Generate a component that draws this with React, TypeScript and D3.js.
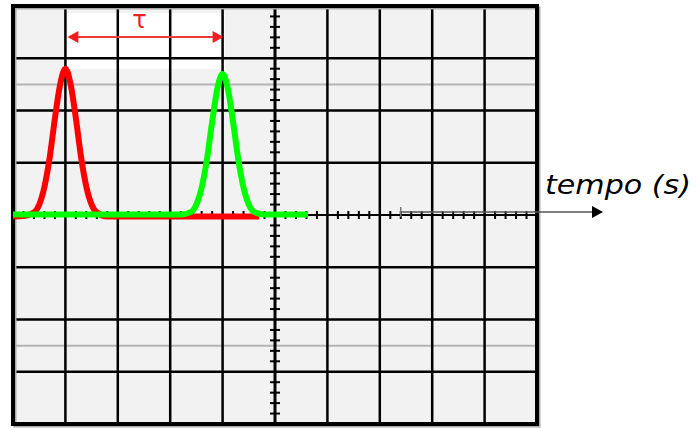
import React, { useEffect, useRef } from "react";
import * as d3 from "d3";

// screen is 10 x 8 divisions, centre at (0, 0)
const xDivs = [-5, -4, -3, -2, -1, 0, 1, 2, 3, 4, 5];
const yDivs = [-4, -3, -2, -1, 0, 1, 2, 3, 4];
const markerLevels = [2.5, -2.5];

// red pulse (time in div, volts in div)
const redT = [-5, -4.8, -4.6, -4.5, -4.4, -4.3, -4.2, -4.1, -4, -3.9, -3.8, -3.7, -3.6, -3.5, -3.4, -3.2, -0.3];
const redV = [-0.03, -0.02, 0.05, 0.2, 0.54, 1.1, 1.85, 2.5, 2.8, 2.5, 1.85, 1.1, 0.54, 0.2, 0.05, -0.03, -0.03];

// green pulse
const greenT = [-5, -1.8, -1.6, -1.5, -1.4, -1.3, -1.2, -1.1, -1, -0.9, -0.8, -0.7, -0.6, -0.5, -0.4, -0.2, 0.63];
const greenV = [0.01, 0.01, 0.06, 0.2, 0.52, 1.06, 1.78, 2.42, 2.7, 2.42, 1.78, 1.06, 0.52, 0.2, 0.06, 0.01, 0.01];

const tauLabel = "τ";
const axisLabel = "tempo (s)";

export default function App() {
  const ref = useRef<SVGSVGElement>(null);

  useEffect(() => {
    document.body.style.margin = "0";
    const svg = d3.select(ref.current);
    svg.selectAll("*").remove();

    const x = d3.scaleLinear().domain([-5, 5]).range([13, 537]);
    const y = d3.scaleLinear().domain([-4, 4]).range([424, 6]);

    // screen background
    svg.append("rect")
      .attr("x", x(-5)).attr("y", y(4))
      .attr("width", x(5) - x(-5)).attr("height", y(-4) - y(4))
      .attr("fill", "#f2f2f2");

    // white patch behind the annotation
    svg.append("rect")
      .attr("x", x(-4) + 2).attr("y", 13)
      .attr("width", x(-1) - x(-4)).attr("height", 56)
      .attr("fill", "#ffffff");

    // gray marker lines
    svg.selectAll(".marker").data(markerLevels).join("line")
      .attr("x1", x(-5)).attr("x2", x(5))
      .attr("y1", (d) => y(d)).attr("y2", (d) => y(d))
      .attr("stroke", "#b4b4b4").attr("stroke-width", 2);

    // grid
    svg.selectAll(".vgrid").data(xDivs.slice(1, -1)).join("line")
      .attr("x1", (d) => x(d)).attr("x2", (d) => x(d))
      .attr("y1", y(4)).attr("y2", y(-4))
      .attr("stroke", "#000").attr("stroke-width", (d) => (d === 0 ? 3 : 2.5));
    svg.selectAll(".hgrid").data(yDivs.slice(1, -1)).join("line")
      .attr("x1", x(-5)).attr("x2", x(5))
      .attr("y1", (d) => y(d)).attr("y2", (d) => y(d))
      .attr("stroke", "#000").attr("stroke-width", (d) => (d === 0 ? 2 : 2.5));

    // minor ticks on centre axes
    const xMinor = d3.range(-25, 26).map((i) => i / 5).filter((d) => Math.abs(d % 1) > 0.01);
    const yMinor = d3.range(-20, 21).map((i) => i / 5).filter((d) => Math.abs(d % 1) > 0.01);
    svg.selectAll(".xtick").data(xMinor).join("line")
      .attr("x1", (d) => x(d)).attr("x2", (d) => x(d))
      .attr("y1", y(0) - 4).attr("y2", y(0) + 4)
      .attr("stroke", "#000").attr("stroke-width", 2);
    svg.selectAll(".ytick").data(yMinor).join("line")
      .attr("x1", x(0) - 5).attr("x2", x(0) + 5)
      .attr("y1", (d) => y(d)).attr("y2", (d) => y(d))
      .attr("stroke", "#000").attr("stroke-width", 2);

    // frame
    svg.append("rect")
      .attr("x", x(-5) + 2).attr("y", y(4) + 2)
      .attr("width", x(5) - x(-5)).attr("height", y(-4) - y(4))
      .attr("fill", "none").attr("stroke", "#aaa").attr("stroke-width", 3);
    svg.append("rect")
      .attr("x", x(-5)).attr("y", y(4))
      .attr("width", x(5) - x(-5)).attr("height", y(-4) - y(4))
      .attr("fill", "none").attr("stroke", "#000").attr("stroke-width", 4);

    // traces
    const line = d3.line<[number, number]>()
      .x((d) => x(d[0])).y((d) => y(d[1]))
      .curve(d3.curveMonotoneX);
    svg.append("path")
      .attr("d", line(d3.zip(redT, redV) as [number, number][]))
      .attr("fill", "none").attr("stroke", "#ff0000").attr("stroke-width", 6)
      .attr("stroke-linejoin", "round");
    svg.append("path")
      .attr("d", line(d3.zip(greenT, greenV) as [number, number][]))
      .attr("fill", "none").attr("stroke", "#00ff00").attr("stroke-width", 6)
      .attr("stroke-linejoin", "round");

    // tau annotation
    const ay = 37;
    const ax1 = x(-4) + 2;
    const ax2 = x(-1) + 1;
    svg.append("line")
      .attr("x1", ax1 + 8).attr("x2", ax2 - 8)
      .attr("y1", ay).attr("y2", ay)
      .attr("stroke", "#f03a3a").attr("stroke-width", 2);
    svg.append("path")
      .attr("d", `M${ax1},${ay} L${ax1 + 11},${ay - 6} L${ax1 + 11},${ay + 6} Z`)
      .attr("fill", "#f01e1e");
    svg.append("path")
      .attr("d", `M${ax2},${ay} L${ax2 - 11},${ay - 6} L${ax2 - 11},${ay + 6} Z`)
      .attr("fill", "#f01e1e");
    svg.append("text")
      .attr("x", (ax1 + ax2) / 2 - 6).attr("y", 28)
      .attr("text-anchor", "middle")
      .attr("font-family", "DejaVu Sans").attr("font-size", 24)
      .attr("fill", "#f01e1e")
      .text(tauLabel);

    // time arrow
    svg.append("line")
      .attr("x1", x(2.4)).attr("x2", 594)
      .attr("y1", y(0) - 3).attr("y2", y(0) - 3)
      .attr("stroke", "#555").attr("stroke-width", 1.5);
    svg.append("line")
      .attr("x1", x(2.4)).attr("x2", x(2.4))
      .attr("y1", y(0) - 8).attr("y2", y(0) + 2)
      .attr("stroke", "#777").attr("stroke-width", 1.5);
    svg.append("path")
      .attr("d", `M603,${y(0) - 3} L592,${y(0) - 9} L592,${y(0) + 3} Z`)
      .attr("fill", "#000");
    svg.append("text")
      .attr("x", 545).attr("y", 194)
      .attr("font-family", "DejaVu Sans").attr("font-style", "italic")
      .attr("font-size", 27).attr("fill", "#000")
      .attr("textLength", 146).attr("lengthAdjust", "spacingAndGlyphs")
      .text(axisLabel);
  }, []);

  return (
    <svg ref={ref} width={698} height={428}
      style={{ position: "absolute", left: 0, top: 0, background: "#fff" }} />
  );
}
